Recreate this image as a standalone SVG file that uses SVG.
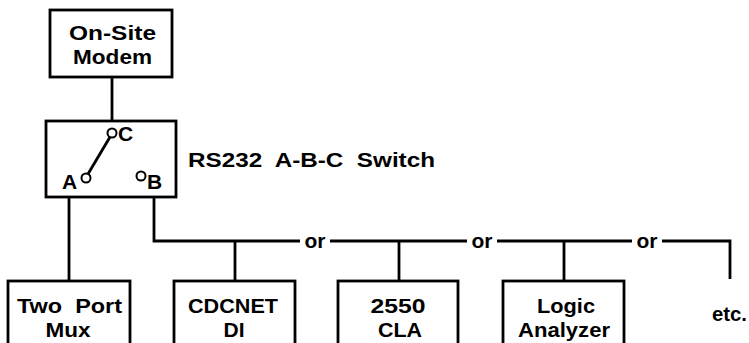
<svg xmlns="http://www.w3.org/2000/svg" width="749" height="343" viewBox="0 0 749 343">
<style>
.box{fill:none;stroke:#000;stroke-width:2.8}
.ln{fill:none;stroke:#000;stroke-width:2.8}
.pin{fill:#fff;stroke:#000;stroke-width:2}
text{font-family:"Liberation Sans",Arial,sans-serif;font-weight:bold;font-size:21px;fill:#000}
.c{text-anchor:middle}
</style>
<rect width="749" height="343" fill="#fff"/>
<g id="connectors">
<line class="ln" x1="112" y1="77" x2="112" y2="121"/>
<line class="ln" x1="69" y1="197" x2="69" y2="281"/>
<polyline class="ln" points="154,197 154,241 300,241"/>
<line class="ln" x1="330" y1="241" x2="467" y2="241"/>
<line class="ln" x1="497" y1="241" x2="632" y2="241"/>
<polyline class="ln" points="662,241 730,241 730,279"/>
<line class="ln" x1="235" y1="241" x2="235" y2="281"/>
<line class="ln" x1="399" y1="241" x2="399" y2="281"/>
<line class="ln" x1="564" y1="241" x2="564" y2="281"/>
<text x="315" y="248" class="c" font-size="20">or</text>
<text x="482" y="248" class="c" font-size="20">or</text>
<text x="647" y="248" class="c" font-size="20">or</text>
</g>
<g id="modem">
<rect class="box" x="50" y="10" width="122" height="67"/>
<text x="112.5" y="40" class="c" textLength="87" lengthAdjust="spacingAndGlyphs">On-Site</text>
<text x="112.5" y="64" class="c" textLength="79" lengthAdjust="spacingAndGlyphs">Modem</text>
</g>
<g id="switch">
<rect class="box" x="46" y="121" width="130" height="76"/>
<line class="ln" x1="88" y1="174" x2="110" y2="137" stroke-width="2"/>
<circle class="pin" cx="112" cy="133" r="4.5"/>
<circle class="pin" cx="86" cy="178" r="4.5"/>
<circle class="pin" cx="141" cy="176" r="4.5"/>
<text x="118" y="141" font-size="20">C</text>
<text x="62" y="189" font-size="20">A</text>
<text x="147" y="189" font-size="20">B</text>
<text x="188" y="167" font-size="20" textLength="247" lengthAdjust="spacingAndGlyphs" xml:space="preserve">RS232  A-B-C  Switch</text>
</g>
<g id="mux">
<rect class="box" x="8" y="281" width="122" height="80"/>
<text x="69.5" y="313" class="c" textLength="105" lengthAdjust="spacingAndGlyphs" xml:space="preserve">Two  Port</text>
<text x="68" y="337" class="c" textLength="45" lengthAdjust="spacingAndGlyphs">Mux</text>
</g>
<g id="cdcnet">
<rect class="box" x="174" y="281" width="121" height="80"/>
<text x="233" y="313" class="c" textLength="90" lengthAdjust="spacingAndGlyphs">CDCNET</text>
<text x="234" y="337" class="c">DI</text>
</g>
<g id="cla">
<rect class="box" x="338" y="281" width="120" height="80"/>
<text x="398" y="313" class="c" textLength="55" lengthAdjust="spacingAndGlyphs">2550</text>
<text x="400" y="337" class="c" textLength="44" lengthAdjust="spacingAndGlyphs">CLA</text>
</g>
<g id="logic">
<rect class="box" x="503" y="281" width="121" height="80"/>
<text x="566" y="313" class="c" textLength="58" lengthAdjust="spacingAndGlyphs">Logic</text>
<text x="564" y="337" class="c" textLength="92" lengthAdjust="spacingAndGlyphs">Analyzer</text>
</g>
<g id="etc">
<text x="729.5" y="321" class="c" textLength="35" lengthAdjust="spacingAndGlyphs">etc.</text>
</g>
</svg>
